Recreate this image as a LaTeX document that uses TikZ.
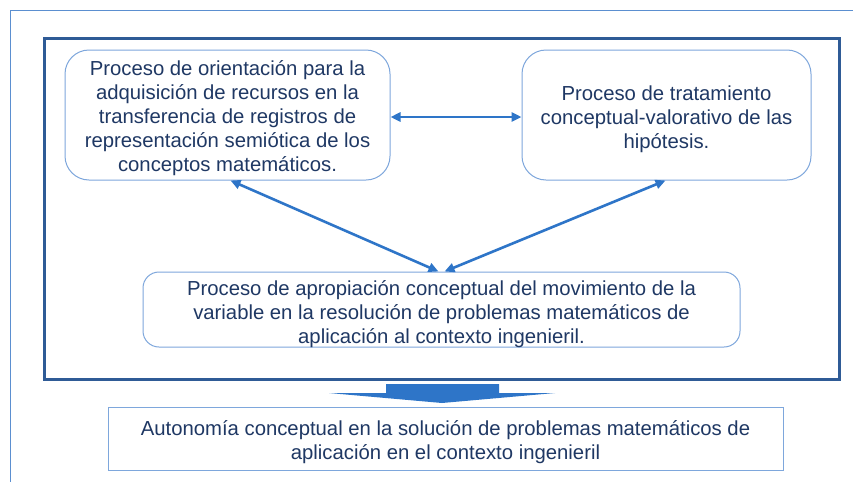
\documentclass[tikz,border=0pt]{standalone}
\usepackage{fontspec}
\setmainfont{Liberation Sans}
\usetikzlibrary{arrows.meta}
\definecolor{txt}{HTML}{1F3864}
\definecolor{boxline}{HTML}{7EA7DC}
\definecolor{frame}{HTML}{2F5B96}
\definecolor{arr}{HTML}{2E75C8}
\definecolor{outer}{HTML}{5B8FD0}
\tikzset{
  procbox/.style={draw=boxline, line width=1pt, rounded corners=24pt, inner sep=0pt},
  proctext/.style={align=center, text=txt, font=\fontsize{20.3pt}{24pt}\selectfont, inner sep=0pt},
  dbl/.style={draw=arr, line width=2.6pt, {Triangle[length=10pt,width=9pt]}-{Triangle[length=10pt,width=9pt]}}
}
\begin{document}
\begin{tikzpicture}[x=1pt,y=1pt]
\useasboundingbox (0,0) rectangle (853,-482);
\fill[white] (0,0) rectangle (853,-482);
% outer thin frame (top and left)
\draw[outer, line width=1pt] (853,-10) -- (10,-10) -- (10,-482);
% thick inner frame
\draw[frame, line width=3pt] (44,-38) rectangle (839,-379);
% boxes
\node[procbox, minimum width=325pt, minimum height=130pt] (tl) at (227.5,-115) {};
\node[proctext] (tltext) at ([yshift=-3.5pt]tl.center)
  {Proceso de orientación para la\\adquisición de recursos en la\\transferencia de registros de\\representación semiótica de los\\conceptos matemáticos.};
\node[procbox, minimum width=289pt, minimum height=130pt] (tr) at (666.5,-115) {};
\node[proctext] (trtext) at ([yshift=-4pt]tr.center)
  {Proceso de tratamiento\\conceptual-valorativo de las\\hipótesis.};
\node[procbox, rounded corners=16pt, minimum width=597pt, minimum height=75pt] (bt) at (441.5,-309.5) {};
\node[proctext] (bttext) at ([yshift=-4.5pt]bt.center)
  {Proceso de apropiación conceptual del movimiento de la\\variable en la resolución de problemas matemáticos de\\aplicación al contexto ingenieril.};
\node[procbox, rounded corners=0pt, minimum width=675pt, minimum height=63pt] (fin) at (445.5,-438.5) {};
\node[proctext] (fintext) at ([yshift=-4pt]fin.center)
  {Autonomía conceptual en la solución de problemas matemáticos de\\aplicación en el contexto ingenieril};
% connectors
\draw[dbl] ([yshift=-2pt]tl.east) -- ([yshift=-2pt]tr.west);
\draw[dbl] ([xshift=3pt]tl.south) -- ([xshift=-3pt]bt.north);
\draw[dbl] ([xshift=-1pt]tr.south) -- ([xshift=3pt]bt.north);
% big down arrow
\fill[arr] (386,-384) -- (499,-384) -- (499,-393) -- (555,-393) -- (442,-403) -- (329,-393) -- (386,-393) -- cycle;
\end{tikzpicture}
\end{document}
